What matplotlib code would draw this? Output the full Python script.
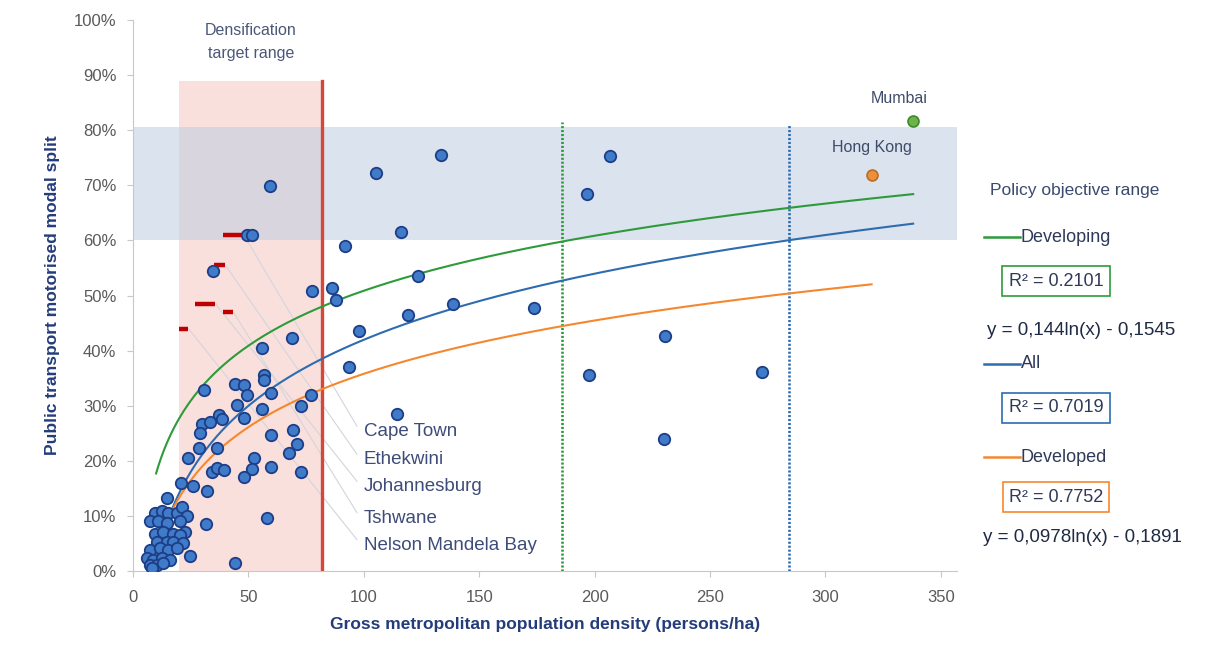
import numpy as np
import matplotlib
matplotlib.use("Agg")
import matplotlib.pyplot as plt
from matplotlib.lines import Line2D
from matplotlib.ticker import PercentFormatter

plt.rcParams['font.family'] = ['Liberation Sans', 'DejaVu Sans']

# scatter: gross density (persons/ha) vs PT modal split (%)
density = [59.2, 105.2, 133.5, 49.4, 51.6, 116, 91.9, 34.5, 123.3, 77.6, 86.3, 87.8,
           69, 55.9, 98, 119, 138.5, 93.6,
           206.7, 196.8, 173.6, 230.6, 197.5, 272.6, 230.1, 114.3,
           30.6, 44.3, 47.9, 49.4, 56.7, 56.7, 59.6, 45, 55.9, 77, 72.6, 37.1, 29.8,
           33.5, 38.5, 47.9, 29.1, 36.4, 28.4, 24, 59.6, 69.4, 71.1, 67.5, 52.3, 51.6,
           59.6, 34.2, 36.4, 39.3, 47.9, 72.6, 20.7, 26.2, 32, 14.9, 31.7, 58, 44.3, 24.5,
           9.6, 12.5, 15.3, 19, 21.2, 23.3, 7.4, 11, 14.6, 20.4, 22.6, 9.6, 13.2, 17.5,
           20.4, 10.3, 14.6, 17.5, 21.8, 7.4, 11.7, 15.3, 19, 5.9, 8.8, 12.5, 16.1,
           7.4, 10.3, 13.2, 8.1]
split = [69.8, 72.3, 75.5, 61.0, 61.0, 61.6, 59.0, 54.4, 53.6, 50.8, 51.4, 49.1,
         42.3, 40.5, 43.6, 46.4, 48.4, 37.0,
         75.3, 68.5, 47.8, 42.6, 35.5, 36.2, 24.0, 28.5,
         32.9, 34.0, 33.8, 32.0, 35.6, 34.7, 32.3, 30.2, 29.4, 32, 29.9, 28.4, 26.7,
         27, 27.5, 27.7, 25, 22.3, 22.3, 20.5, 24.7, 25.5, 23.1, 21.5, 20.5, 18.5,
         18.8, 17.9, 18.7, 18.4, 17, 17.9, 16, 15.5, 14.5, 13.3, 8.6, 9.7, 1.4, 2.7,
         10.5, 10.8, 10.5, 10.5, 11.7, 9.9, 9, 9, 8.7, 9, 7.1, 6.8, 7.1, 6.8,
         6.5, 5.3, 5.3, 5.3, 5, 3.8, 4.1, 3.8, 4.1, 2.3, 2, 2.3, 2,
         1.1, 1.1, 1.4, 0.5]

mumbai = (338, 81.6)
hong_kong = (320, 71.8)

# log trend lines: y = a*ln(x) + b  (fraction), with x range
trend_names = ["Developing", "All", "Developed"]
trend_a = [0.144, 0.173, 0.1396]
trend_b = [-0.1545, -0.377, -0.285]
trend_x0 = [10, 8.8, 8.7]
trend_x1 = [338, 338, 320]
trend_colors = ["#2E9B3A", "#2E6CB0", "#F5882E"]

# South African cities: red dashes (x0, x1, y%)
sa_cities = ["Cape Town", "Ethekwini", "Johannesburg", "Tshwane", "Nelson Mandela Bay"]
sa_x0 = [39, 35, 27, 39, 20]
sa_x1 = [48, 40, 35.7, 43.5, 24]
sa_y = [61, 55.5, 48.5, 47, 44]
sa_label_y = [25.3, 20.2, 15.3, 9.6, 4.7]

W, H = 1216, 652
fig = plt.figure(figsize=(W / 100, H / 100), dpi=100)
ax = fig.add_axes([133 / W, 1 - 571 / H, (957 - 133) / W, (571 - 20) / H])

ax.set_xlim(0, 357)
ax.set_ylim(0, 100)

# ranges
ax.add_patch(plt.Rectangle((20, 0), 62, 89, facecolor="#F6C3BC", alpha=0.5, lw=0, zorder=1))
ax.axhspan(60, 80.5, facecolor="#BFCCE0", alpha=0.55, lw=0, zorder=1)
ax.plot([82, 82], [0, 89], color="#D4483C", lw=2.4, zorder=3)
ax.plot([186, 186], [0, 81.5], color="#2E9B3A", lw=1.9, ls=(0, (0.8, 0.7)), zorder=3)
ax.plot([284, 284], [0, 81], color="#2E6CB0", lw=1.9, ls=(0, (0.8, 0.7)), zorder=3)

ax.text(51, 96, "Densification\ntarget range", ha="center", va="center",
        fontsize=11.5, color="#4A5878", linespacing=1.6)

# leader lines + red dashes
for x1, y, ly in zip(sa_x1, sa_y, sa_label_y):
    ax.plot([x1, 97], [y, ly + 1], color="#D3D5DC", lw=0.8, zorder=2)
ax.hlines(sa_y, sa_x0, sa_x1, color="#C00000", lw=3.2, zorder=4)
for name, ly in zip(sa_cities, sa_label_y):
    ax.text(100, ly, name, ha="left", va="center", fontsize=13.5, color="#3E4C7A", zorder=5)

# trend lines
for a, b, x0, x1, c in zip(trend_a, trend_b, trend_x0, trend_x1, trend_colors):
    xs = np.linspace(x0, x1, 300)
    ax.plot(xs, (a * np.log(xs) + b) * 100, color=c, lw=1.5, zorder=4)

ax.scatter(density, split, s=68, facecolor="#3F7BC8", edgecolor="#1D3E86", lw=1.3, zorder=6)
ax.scatter(*mumbai, s=62, facecolor="#6DB34A", edgecolor="#3D8A2A", lw=1.2, zorder=6)
ax.scatter(*hong_kong, s=62, facecolor="#EE8F3A", edgecolor="#C06A20", lw=1.2, zorder=6)
ax.text(332, 85.8, "Mumbai", ha="center", va="center", fontsize=11.5, color="#3E4C6A")
ax.text(320, 76.8, "Hong Kong", ha="center", va="center", fontsize=11.5, color="#3E4C6A")

# axes styling
for s in ["top", "right"]:
    ax.spines[s].set_visible(False)
for s in ["left", "bottom"]:
    ax.spines[s].set_color("#C8C8C8")
ax.set_xticks(range(0, 351, 50))
ax.set_yticks(range(0, 101, 10))
ax.yaxis.set_major_formatter(PercentFormatter(decimals=0))
ax.tick_params(axis="both", colors="#C8C8C8", labelcolor="#5A5A5A", labelsize=12, length=4)
ax.tick_params(axis="y", pad=8)
ax.tick_params(axis="x", pad=10)
ax.set_xlabel("Gross metropolitan population density (persons/ha)", fontsize=12.5,
              fontweight="bold", color="#243C7A", labelpad=8)
ax.set_ylabel("Public transport motorised modal split", fontsize=12.5,
              fontweight="bold", color="#243C7A", labelpad=10)


def fx(px):
    return px / W


def fy(py):
    return 1 - py / H


# right-side legend block
fig.text(fx(1075), fy(190), "Policy objective range", ha="center", va="center",
         fontsize=12.5, color="#3A4A6E")
legend_rows = [237, 364, 457]
box_rows = [281, 408, 497]
box_texts = ["R\u00b2 = 0.2101", "R\u00b2 = 0.7019", "R\u00b2 = 0.7752"]
for name, c, ry, by, bt in zip(trend_names, trend_colors, legend_rows, box_rows, box_texts):
    fig.add_artist(Line2D([fx(984), fx(1020)], [fy(ry), fy(ry)], color=c, lw=1.8))
    fig.text(fx(1021), fy(ry), name, ha="left", va="center", fontsize=13, color="#2F3A5A")
    fig.text(fx(1056), fy(by), bt, ha="center", va="center", fontsize=13, color="#2F3A5A",
             bbox=dict(boxstyle="square,pad=0.35", facecolor="white", edgecolor=c, lw=1.2))
fig.text(fx(1081), fy(331), "y = 0,144ln(x) - 0,1545", ha="center", va="center",
         fontsize=13.5, color="#1F2A44")
fig.text(fx(1082), fy(537), "y = 0,0978ln(x) - 0,1891", ha="center", va="center",
         fontsize=13.5, color="#1F2A44")

fig.savefig("out.png", dpi=100)
